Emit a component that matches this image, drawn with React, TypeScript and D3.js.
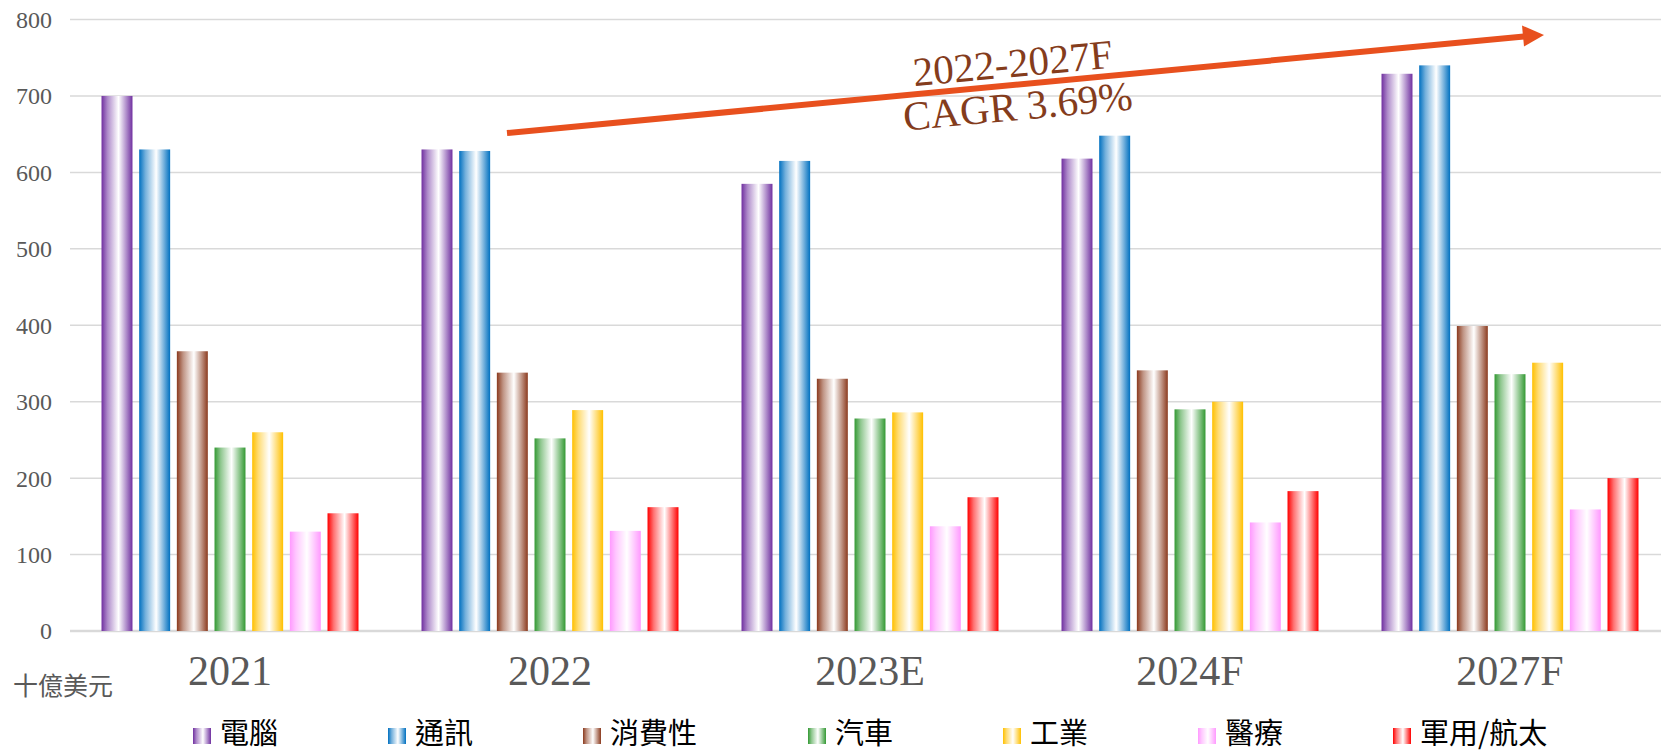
import * as d3 from 'd3'

// 年度
const categories = ['2021', '2022', '2023E', '2024F', '2027F']
// 應用別
const series = ['電腦', '通訊', '消費性', '汽車', '工業', '醫療', '軍用/航太']
const colors = ['#7030A0', '#0070C0', '#8B3A1E', '#339933', '#FFC000', '#FF99FF', '#FF0000']

// 十億美元
const pc = [700, 630, 585, 618, 729]
const comm = [630, 628, 615, 648, 740]
const consumer = [366, 338, 330, 341, 399]
const auto = [240, 252, 278, 290, 336]
const industrial = [260, 289, 286, 300, 351]
const medical = [130, 131, 137, 142, 159]
const military = [154, 162, 175, 183, 200]
const values = [pc, comm, consumer, auto, industrial, medical, military]

const yTicks = [0, 100, 200, 300, 400, 500, 600, 700, 800]
const cagrLines = ['2022-2027F', 'CAGR 3.69%']

const width = 1661
const height = 753
const serif = '"Liberation Serif", "DejaVu Serif", serif'
const cjk = '"Noto Sans CJK TC", "Noto Sans CJK SC", sans-serif'
const gray = '#595959'

export default function App() {
	const y = d3.scaleLinear().domain([0, 800]).range([631, 19.5])
	const x0 = d3.scaleBand().domain(categories).range([70, 1670]).paddingInner(0.197).paddingOuter(0.0985)
	const x1 = d3.scaleBand().domain(series).range([0, x0.bandwidth()]).paddingInner(0.178).paddingOuter(0)

	// 圖例位置
	let lx = 193
	const legend = series.map((s, i) => {
		const item = { s, i, x: lx }
		lx += 135 + s.replace('/', '').length * 30 + (s.includes('/') ? 12 : 0)
		return item
	})

	const mix = (c, t) => d3.interpolateRgb(c, '#ffffff')(t)

	return (
		<div style={{ position: 'absolute', left: 0, top: 0 }}>
			<svg width={width} height={height} style={{ display: 'block', background: '#fff' }}>
				<defs>
					{colors.map((c, i) => (
						<linearGradient key={i} id={'g' + i} x1="0" x2="1" y1="0" y2="0">
							<stop offset="0" stopColor={c} />
							<stop offset="0.2" stopColor={mix(c, 0.45)} />
							<stop offset="0.55" stopColor="#ffffff" />
							<stop offset="0.8" stopColor={mix(c, 0.45)} />
							<stop offset="1" stopColor={c} />
						</linearGradient>
					))}
				</defs>

				{/* 格線 */}
				{yTicks.map((t) => (
					<g key={t}>
						<line x1={70} x2={width} y1={y(t)} y2={y(t)} stroke="#d9d9d9" strokeWidth={t === 0 ? 2.5 : 1.5} />
						<text x={52} y={y(t)} dy="0.35em" textAnchor="end" fontFamily={serif} fontSize={24} fill={gray}>
							{t}
						</text>
					</g>
				))}

				{/* 柱狀 */}
				{categories.map((c, ci) => (
					<g key={c} transform={`translate(${x0(c)},0)`}>
						{series.map((s, si) => (
							<rect
								key={s}
								x={x1(s)}
								y={y(values[si][ci])}
								width={x1.bandwidth()}
								height={y(0) - y(values[si][ci])}
								fill={`url(#g${si})`}
							/>
						))}
						<text
							x={x0.bandwidth() / 2}
							y={685}
							textAnchor="middle"
							fontFamily={serif}
							fontSize={42}
							fill={gray}
						>
							{c}
						</text>
					</g>
				))}

				<text x={13} y={695} fontFamily={cjk} fontSize={25} fill={gray}>
					十億美元
				</text>

				{/* CAGR 箭頭 */}
				<line x1={507} y1={133} x2={1524} y2={36.5} stroke="#E8501E" strokeWidth={6} />
				<polygon points="1544,35 1522,25.5 1524,46.5" fill="#E8501E" />
				<text
					x={1014}
					y={77}
					transform="rotate(-5.3 1014 77)"
					textAnchor="middle"
					fontFamily={serif}
					fontSize={41}
					fill="#843C1C"
				>
					{cagrLines[0]}
				</text>
				<text
					x={1019}
					y={120}
					transform="rotate(-5.3 1019 120)"
					textAnchor="middle"
					fontFamily={serif}
					fontSize={41}
					fill="#843C1C"
				>
					{cagrLines[1]}
				</text>

				{/* 圖例 */}
				{legend.map((d) => (
					<g key={d.s} transform={`translate(${d.x},0)`}>
						<rect x={0} y={728} width={18} height={16} fill={`url(#g${d.i})`} />
						<text x={27} y={744} fontFamily={cjk} fontSize={29} fill="#000">
							{d.s}
						</text>
					</g>
				))}
			</svg>
		</div>
	)
}
